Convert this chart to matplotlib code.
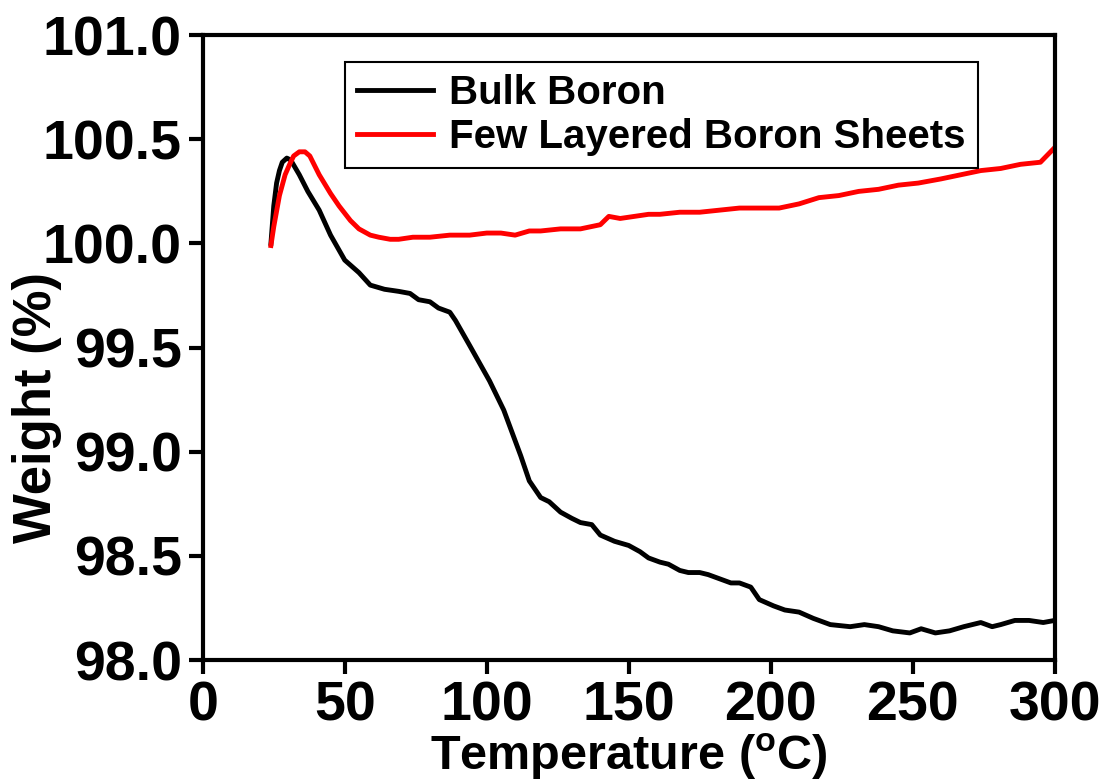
import numpy as np
import matplotlib
matplotlib.use('Agg')
import matplotlib.pyplot as plt

plt.rcParams['font.family'] = ['Liberation Sans', 'DejaVu Sans']
plt.rcParams['font.weight'] = 'bold'

# Bulk Boron (black)
bulk_T = [24, 25, 26, 27, 28, 29.6, 31, 34, 37, 41, 45, 50, 55, 59, 64, 69, 73, 76,
          80, 83, 87, 89, 94, 101, 106, 112, 115, 119, 122, 126, 130, 133, 137, 140,
          145, 150, 154, 157, 161, 164, 168, 171, 175, 178, 182, 186, 189, 193, 196,
          201, 205, 210, 215, 221, 228, 233, 238, 243, 249, 253, 258, 263, 268, 274,
          278, 281, 286, 291, 296, 300]
bulk_W = [100.0, 100.18, 100.29, 100.35, 100.39, 100.41, 100.40, 100.33, 100.25,
          100.16, 100.04, 99.92, 99.86, 99.80, 99.78, 99.77, 99.76, 99.73, 99.72,
          99.69, 99.67, 99.63, 99.51, 99.34, 99.20, 98.98, 98.86, 98.78, 98.76,
          98.71, 98.68, 98.66, 98.65, 98.60, 98.57, 98.55, 98.52, 98.49, 98.47,
          98.46, 98.43, 98.42, 98.42, 98.41, 98.39, 98.37, 98.37, 98.35, 98.29,
          98.26, 98.24, 98.23, 98.20, 98.17, 98.16, 98.17, 98.16, 98.14, 98.13,
          98.15, 98.13, 98.14, 98.16, 98.18, 98.16, 98.17, 98.19, 98.19, 98.18,
          98.19]

# Few Layered Boron Sheets (red)
sheet_T = [24, 25, 27, 29, 30.6, 32, 34, 36, 37.7, 41, 45, 48, 52, 55, 59, 62, 66,
           69, 74, 80, 87, 94, 100, 105, 110, 115, 119, 126, 133, 140, 143, 147,
           152, 157, 161, 168, 175, 182, 189, 196, 203, 210, 217, 224, 231, 238,
           245, 252, 260, 267, 274, 281, 288, 295, 300]
sheet_W = [99.99, 100.08, 100.23, 100.33, 100.38, 100.42, 100.44, 100.44, 100.42,
           100.33, 100.24, 100.18, 100.11, 100.07, 100.04, 100.03, 100.02, 100.02,
           100.03, 100.03, 100.04, 100.04, 100.05, 100.05, 100.04, 100.06, 100.06,
           100.07, 100.07, 100.09, 100.13, 100.12, 100.13, 100.14, 100.14, 100.15,
           100.15, 100.16, 100.17, 100.17, 100.17, 100.19, 100.22, 100.23, 100.25,
           100.26, 100.28, 100.29, 100.31, 100.33, 100.35, 100.36, 100.38, 100.39,
           100.46]

x_ticks = [0, 50, 100, 150, 200, 250, 300]
y_ticks = [98.0, 98.5, 99.0, 99.5, 100.0, 100.5, 101.0]

fig = plt.figure(figsize=(11.02, 7.82), dpi=100)
ax = fig.add_axes([0.184, 0.156, 0.773, 0.799])

ax.plot(bulk_T, bulk_W, color='black', lw=3.5, label='Bulk Boron')
ax.plot(sheet_T, sheet_W, color='red', lw=3.5, label='Few Layered Boron Sheets')

ax.set_xlim(0, 300)
ax.set_ylim(98.0, 101.0)
ax.set_xticks(x_ticks)
ax.set_yticks(y_ticks)
ax.set_yticklabels(['%.1f' % v for v in y_ticks])
ax.tick_params(direction='out', length=10, width=3, labelsize=40, pad=5)
for lab in ax.get_xticklabels() + ax.get_yticklabels():
    lab.set_fontweight('bold')
for s in ax.spines.values():
    s.set_linewidth(3)

ax.set_xlabel('Temperature ($\\mathregular{^{o}}$C)', fontsize=35, fontweight='bold')
ax.xaxis.set_label_coords(0.5, -0.115)
ax.set_ylabel('Weight (%)', fontsize=38, fontweight='bold')
ax.yaxis.set_label_coords(-0.165, 0.404)

leg = ax.legend(loc='upper left', bbox_to_anchor=(0.1667, 0.957),
                prop={'weight': 'bold', 'size': 29}, frameon=True, fancybox=False,
                handlelength=1.9, borderpad=0.3, labelspacing=0.15, handletextpad=0.4,
                borderaxespad=0)
leg.get_frame().set_edgecolor('black')
leg.get_frame().set_linewidth(1.5)
leg.get_frame().set_alpha(1)

fig.savefig('out.png', dpi=100)
